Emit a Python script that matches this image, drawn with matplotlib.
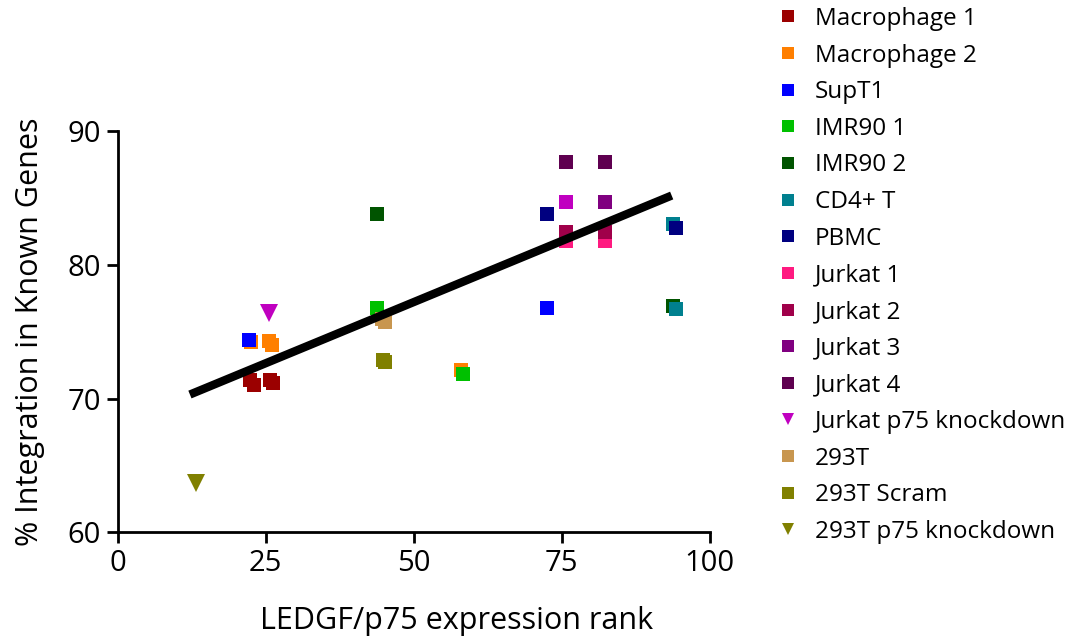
import numpy as np
import matplotlib.pyplot as plt

plt.rcParams['font.family'] = ['Open Sans', 'DejaVu Sans']

# (label, color, marker, x values, y values)
labels = ['Macrophage 1', 'Macrophage 2', 'SupT1', 'IMR90 1', 'IMR90 2', 'CD4+ T',
          'PBMC', 'Jurkat 1', 'Jurkat 2', 'Jurkat 3', 'Jurkat 4',
          'Jurkat p75 knockdown', '293T', '293T Scram', '293T p75 knockdown']
colors = ['#9b0000', '#ff7f00', '#0000ff', '#00c000', '#005400', '#00808f',
          '#000080', '#ff1a80', '#a0004a', '#800080', '#5f0050',
          '#c000c0', '#c8964f', '#808000', '#808000']
markers = ['s'] * 11 + ['v', 's', 's', 'v']

xs = [
    [22.3, 23.0, 25.7, 26.2],
    [22.6, 25.6, 26.0, 58.0],
    [22.1, 72.6],
    [43.8, 58.3],
    [43.8, 93.9],
    [93.9, 94.3],
    [72.6, 94.4],
    [75.8, 82.3],
    [75.8, 82.3],
    [82.3],
    [75.8, 82.3],
    [25.5],
    [44.6, 45.1],
    [44.8, 45.1],
    [13.2],
]
ys = [
    [71.4, 71.0, 71.4, 71.2],
    [74.2, 74.3, 74.0, 72.1],
    [74.4, 76.8],
    [76.8, 71.8],
    [83.8, 76.9],
    [83.1, 76.7],
    [83.8, 82.8],
    [81.8, 81.8],
    [82.5, 82.5],
    [84.7],
    [87.7, 87.7],
    [76.4],
    [75.95, 75.7],
    [72.9, 72.7],
    [63.7],
]

# extra magenta square (no legend entry)
extra_x = [75.8]
extra_y = [84.7]

# regression line end points
fit_x = [12.2, 93.6]
fit_y = [70.3, 85.2]

fig = plt.figure(figsize=(10.8, 6.38), dpi=100)
ax = fig.add_axes([0.109, 0.166, 0.548, 0.628])

for lab, c, m, x, y in zip(labels, colors, markers, xs, ys):
    ms = 10 if m == 's' else 13
    ax.plot(x, y, linestyle='none', marker=m, markersize=ms, color=c,
            markeredgewidth=0, label=lab, clip_on=False)
ax.plot(extra_x, extra_y, linestyle='none', marker='s', markersize=10,
        color='#c000c0', markeredgewidth=0)

ax.plot(fit_x, fit_y, color='black', linewidth=6, solid_capstyle='butt')

ax.set_xlim(0, 100)
ax.set_ylim(60, 90)
ax.set_xticks([0, 25, 50, 75, 100])
ax.set_yticks([60, 70, 80, 90])
for s in ['top', 'right']:
    ax.spines[s].set_visible(False)
for s in ['left', 'bottom']:
    ax.spines[s].set_linewidth(2)
ax.tick_params(width=2, length=8, labelsize=21, pad=4)

ax.set_xlabel('LEDGF/p75 expression rank', fontsize=22, labelpad=20, x=0.573)
ax.set_ylabel('% Integration in Known Genes', fontsize=22, labelpad=16)

leg = ax.legend(loc='upper left', bbox_to_anchor=(1.1, 1.335), frameon=False,
                fontsize=17.5, handlelength=0.8,
                handletextpad=0.7, labelspacing=0.52, borderaxespad=0)
for h, m in zip(leg.legend_handles, markers):
    h.set_markersize(8.5 if m == 's' else 9)

fig.savefig('out.png', dpi=100)
